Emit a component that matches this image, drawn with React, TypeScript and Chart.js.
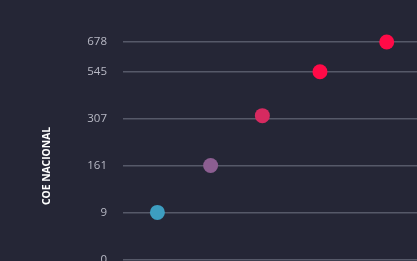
import React, { useEffect, useRef } from "react";
import { Chart, registerables, LinearScale } from "chart.js";

// ---- data ----
const xValues = [11.7, 29.8, 47.4, 67.0, 89.7];
const yValues = [9, 161, 322, 545, 678];
const pointColors = ["#3d9dc0", "#8c5e91", "#d62a60", "#ff0a47", "#ff0a47"];
const tickValues = [0, 9, 161, 307, 545, 678];
const tickSteps = [0, 1, 2, 3, 4, 4.633];
const axisTitle = "COE NACIONAL";

const STEP_MIN = -0.655;
const STEP_MAX = 4.633;

function valueToStep(v: number): number {
  const n = tickValues.length;
  if (v <= tickValues[0]) {
    const s = (tickSteps[1] - tickSteps[0]) / (tickValues[1] - tickValues[0]);
    return tickSteps[0] + (v - tickValues[0]) * s;
  }
  for (let i = 1; i < n; i++) {
    if (v <= tickValues[i]) {
      const t = (v - tickValues[i - 1]) / (tickValues[i] - tickValues[i - 1]);
      return tickSteps[i - 1] + t * (tickSteps[i] - tickSteps[i - 1]);
    }
  }
  const s = (tickSteps[n - 1] - tickSteps[n - 2]) / (tickValues[n - 1] - tickValues[n - 2]);
  return tickSteps[n - 1] + (v - tickValues[n - 1]) * s;
}

function stepToValue(u: number): number {
  const n = tickSteps.length;
  for (let i = 1; i < n; i++) {
    if (u <= tickSteps[i] || i === n - 1) {
      const t = (u - tickSteps[i - 1]) / (tickSteps[i] - tickSteps[i - 1]);
      return tickValues[i - 1] + t * (tickValues[i] - tickValues[i - 1]);
    }
  }
  return tickValues[n - 1];
}

class SteppedScale extends (LinearScale as any) {
  static id = "stepped";
  static defaults = (LinearScale as any).defaults;
  buildTicks() {
    return tickValues.map((v) => ({ value: v }));
  }
  getPixelForValue(value: number) {
    const u = valueToStep(value);
    return (this as any).getPixelForDecimal((u - STEP_MIN) / (STEP_MAX - STEP_MIN));
  }
  getValueForPixel(pixel: number) {
    const d = (this as any).getDecimalForPixel(pixel);
    return stepToValue(STEP_MIN + d * (STEP_MAX - STEP_MIN));
  }
}

Chart.register(...registerables, SteppedScale as any);

export default function App() {
  const ref = useRef<HTMLCanvasElement | null>(null);
  useEffect(() => {
    if (!ref.current) return;
    const chart = new Chart(ref.current, {
      type: "scatter",
      data: {
        datasets: [
          {
            data: xValues.map((x, i) => ({ x, y: yValues[i] })),
            pointBackgroundColor: pointColors,
            pointBorderWidth: 0,
            pointRadius: 7.5,
            pointHoverRadius: 7.5,
            clip: false as any,
          },
        ],
      },
      options: {
        animation: false,
        responsive: false,
        devicePixelRatio: 1,
        layout: { autoPadding: false, padding: { top: 42, left: 0, right: 0, bottom: 0 } } as any,
        plugins: { legend: { display: false }, tooltip: { enabled: false }, title: { display: false } },
        scales: {
          x: { type: "linear", min: 0, max: 100, display: false },
          y: {
            type: "stepped" as any,
            position: "left",
            border: { display: false },
            grid: { color: "#565969", lineWidth: 1.5, drawTicks: false },
            ticks: {
              autoSkip: false,
              padding: 16,
              color: "#b8b9c5",
              font: { family: "'Open Sans', sans-serif", size: 11.5 },
              callback: (v: any) => String(v),
            },
            title: {
              display: true,
              text: axisTitle,
              color: "#ffffff",
              font: { family: "'Open Sans', sans-serif", size: 10.3, weight: "bold" },
              padding: { top: 41, bottom: 0 },
            },
            afterFit: (scale: any) => {
              scale.width = 123;
              scale.paddingTop = 0;
              scale.paddingBottom = 0;
            },
          } as any,
        },
      },
    });
    return () => chart.destroy();
  }, []);
  return (
    <div
      style={{
        position: "fixed",
        left: 0,
        top: 0,
        width: 417,
        height: 261,
        overflow: "hidden",
        background: "#252636",
      }}
    >
      <canvas ref={ref} width={417} height={290} style={{ display: "block" }} />
    </div>
  );
}
